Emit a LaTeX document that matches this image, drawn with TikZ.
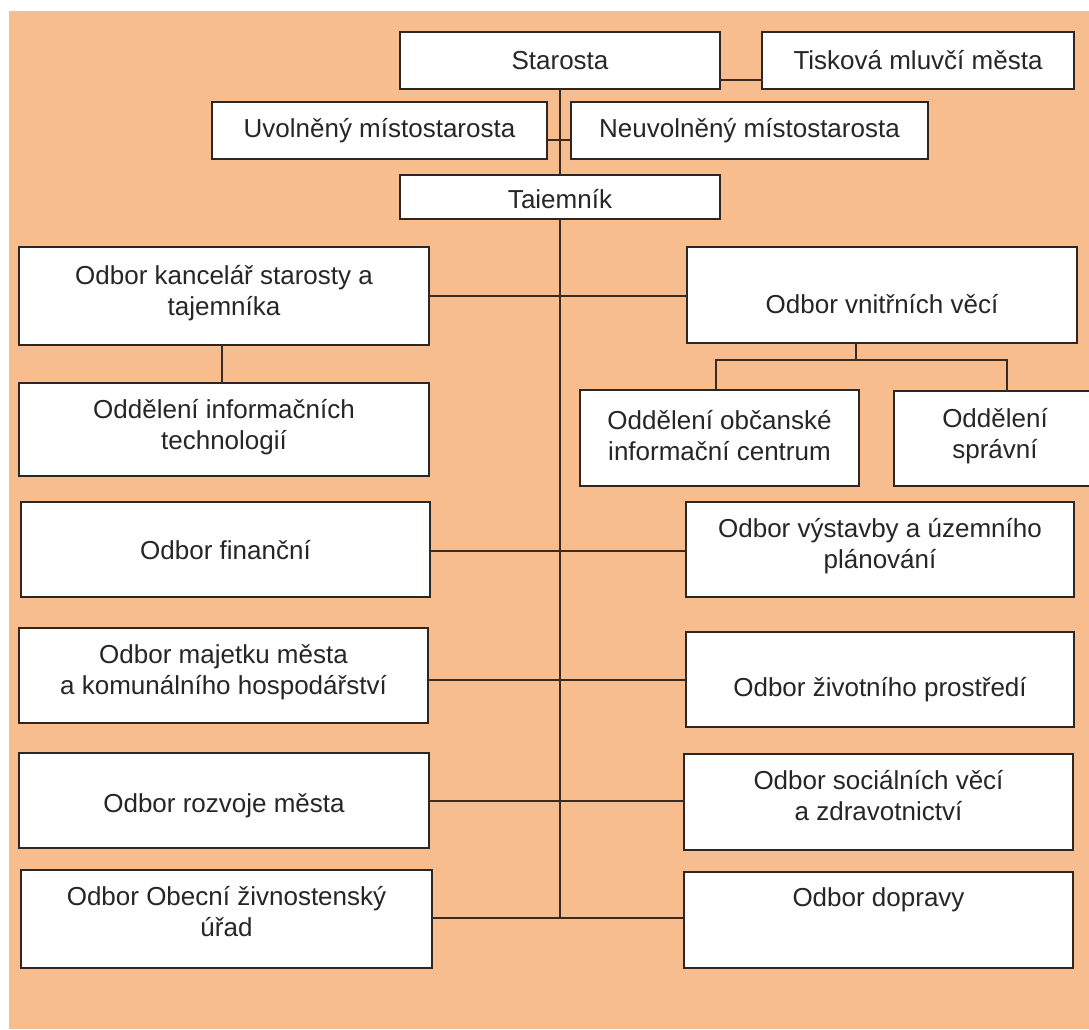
\documentclass[tikz,border=0pt]{standalone}
\usepackage{fontspec}
\setmainfont{Liberation Sans}
\definecolor{peach}{HTML}{F7BD8E}
\definecolor{lineb}{HTML}{3B2A20}
\definecolor{boxb}{HTML}{2E2622}
\definecolor{txtc}{HTML}{262626}
\tikzset{
  orgbox/.style={draw=boxb, line width=2pt, fill=white, inner sep=0pt, outer sep=0pt},
  orgtxt/.style={font=\fontsize{26}{31}\selectfont, text=txtc, align=center, inner sep=0pt},
  conn/.style={draw=lineb, line width=2pt},
}
\newcommand{\orgbox}[7]{%
  \node[orgbox, minimum width={(#4-#2)*1pt}, minimum height={(#5-#3)*1pt}] (#1) at ({(#2+#4)/2},{(#3+#5)/2}) {};
  \node[orgtxt, yshift={-(#6)*1pt}] (#1-t) at (#1.center) {#7};}
\begin{document}
\begin{tikzpicture}[x=1pt,y=-1pt]
\useasboundingbox (0,0) rectangle (1089,1029);
\fill[white] (0,0) rectangle (1089,1029);
\fill[peach] (9,11) rectangle (1089,1029);
\begin{scope}
\clip (0,0) rectangle (1089,1029);
% boxes
\orgbox{starosta}{400}{32}{720}{89}{0}{Starosta}
\orgbox{tiskova}{762}{32}{1074}{89}{0}{Tisková mluvčí města}
\orgbox{uvol}{212}{102}{547}{159}{0}{Uvolněný místostarosta}
\orgbox{neuvol}{571}{102}{928}{159}{0}{Neuvolněný místostarosta}
\orgbox{taj}{400}{175}{720}{219}{2}{Taiemník}
\orgbox{kanc}{19}{247}{429}{345}{-3}{Odbor kancelář starosty a\\tajemníka}
\orgbox{vnitr}{687}{247}{1077}{343}{9}{Odbor vnitřních věcí}
\orgbox{infor}{19}{383}{429}{476}{-2}{Oddělení informačních\\technologií}
\orgbox{obc}{580}{390}{859}{486}{-2}{Oddělení občanské\\informační centrum}
\orgbox{spr}{894}{391}{1096}{486}{-2}{Oddělení\\správní}
\orgbox{fin}{21}{502}{430}{597}{1}{Odbor finanční}
\orgbox{vyst}{686}{502}{1074}{597}{-3}{Odbor výstavby a územního\\plánování}
\orgbox{maj}{19}{628}{428}{723}{-3}{Odbor majetku města\\a komunálního hospodářství}
\orgbox{ziv}{686}{632}{1074}{727}{10}{Odbor životního prostředí}
\orgbox{rozv}{19}{753}{429}{848}{5}{Odbor rozvoje města}
\orgbox{soc}{684}{754}{1073}{850}{-6}{Odbor sociálních věcí\\a zdravotnictví}
\orgbox{obec}{21}{870}{432}{968}{-7}{Odbor Obecní živnostenský\\úřad}
\orgbox{dopr}{684}{872}{1073}{968}{-20}{Odbor dopravy}
% junction coordinates
\coordinate (rs) at (560,80);
\coordinate (ru) at (560,140);
\coordinate (r1) at (560,296);
\coordinate (r2) at (560,551);
\coordinate (r3) at (560,680);
\coordinate (r4) at (560,801);
\coordinate (r5) at (560,918);
\coordinate (vj) at (856,360);
\coordinate (hl) at (716,360);
\coordinate (hr) at (1007,360);
\coordinate (kj) at (222,360);
% connectors
\draw[conn] (starosta.east |- rs) -- (tiskova.west |- rs);
\draw[conn] (uvol.east |- ru) -- (neuvol.west |- ru);
\draw[conn] (starosta.south) -- (taj.north);
\draw[conn] (taj.south) -- (r5);
\draw[conn] (kanc.east |- r1) -- (vnitr.west |- r1);
\draw[conn] (kj |- kanc.south) -- (kj |- infor.north);
\draw[conn] (vj |- vnitr.south) -- (vj);
\draw[conn] (hl |- obc.north) -- (hl) -- (hr) -- (hr |- spr.north);
\draw[conn] (fin.east |- r2) -- (vyst.west |- r2);
\draw[conn] (maj.east |- r3) -- (ziv.west |- r3);
\draw[conn] (rozv.east |- r4) -- (soc.west |- r4);
\draw[conn] (obec.east |- r5) -- (dopr.west |- r5);
\end{scope}
\end{tikzpicture}
\end{document}
